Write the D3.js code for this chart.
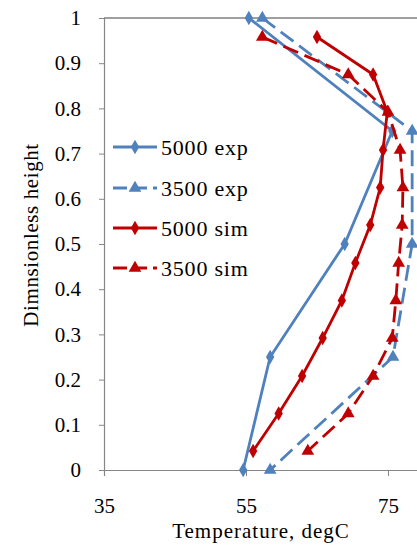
<!DOCTYPE html>
<html>
<head>
<meta charset="utf-8">
<script src="https://cdn.jsdelivr.net/npm/d3@7"></script>
<style>
  body { margin: 0; background: #fff; }
</style>
</head>
<body>
<div id="chart"></div>
<script>
// series data: [temperature degC, dimensionless height]
const exp5000 = [[55.4, 1], [75.6, 0.75], [68.9, 0.5], [58.4, 0.25], [54.6, 0]];
const exp3500 = [[57.3, 1], [78.4, 0.75], [78.4, 0.5], [75.7, 0.25], [58.4, 0]];
const simHeights = [0.958, 0.875, 0.792, 0.708, 0.625, 0.542, 0.458, 0.375, 0.292, 0.208, 0.125, 0.042];
const sim5000T = [65.0, 72.9, 74.9, 74.3, 73.9, 72.5, 70.4, 68.5, 65.8, 62.9, 59.6, 56.0];
const sim3500T = [57.3, 69.4, 75.0, 76.7, 77.1, 77.0, 76.5, 76.1, 75.6, 72.9, 69.4, 63.7];
const xTicks = [35, 55, 75];
const yTicks = [0, 0.1, 0.2, 0.3, 0.4, 0.5, 0.6, 0.7, 0.8, 0.9, 1];

const blue = "#4F81BD";
const red = "#C00000";
const serif = '"Liberation Serif", "Times New Roman", serif';

const series = [
  { name: "5000 exp", color: blue, dash: null, marker: "diamond", pts: exp5000 },
  { name: "3500 exp", color: blue, dash: "16,7", marker: "triangle", pts: exp3500 },
  { name: "5000 sim", color: red, dash: null, marker: "diamond", pts: simHeights.map((h, i) => [sim5000T[i], h]) },
  { name: "3500 sim", color: red, dash: "16,7", marker: "triangle", pts: simHeights.map((h, i) => [sim3500T[i], h]) }
];

const width = 417, height = 548;
const svg = d3.select("#chart").append("svg")
  .attr("width", width).attr("height", height);

const x = d3.scaleLinear().domain([35, 95]).range([104, 104 + 60 * 7.1]);
const y = d3.scaleLinear().domain([0, 1]).range([470, 18]);

// top border line
svg.append("line")
  .attr("x1", x(35)).attr("x2", width)
  .attr("y1", y(1)).attr("y2", y(1))
  .attr("stroke", "#404040").attr("stroke-width", 1.2);

// x axis
const xAxis = svg.append("g")
  .attr("transform", `translate(0,${y(0)})`)
  .call(d3.axisBottom(x).tickValues(xTicks).tickSize(6).tickPadding(22).tickFormat(d3.format("d")));
xAxis.select(".domain").attr("stroke", "#868686").attr("stroke-width", 1.2);
xAxis.selectAll(".tick line").attr("stroke", "#868686");
xAxis.selectAll(".tick text")
  .style("font-family", serif).style("font-size", "21px").attr("fill", "#000");

// y axis
const yAxis = svg.append("g")
  .attr("transform", `translate(${x(35)},0)`)
  .call(d3.axisLeft(y).tickValues(yTicks).tickSize(5).tickPadding(18)
    .tickFormat(d => d === 0 || d === 1 ? String(d) : d3.format(".1f")(d)));
yAxis.select(".domain").attr("stroke", "#868686").attr("stroke-width", 1.2);
yAxis.selectAll(".tick line").attr("stroke", "#868686");
yAxis.selectAll(".tick text")
  .style("font-family", serif).style("font-size", "21px").attr("fill", "#000");

// axis titles
svg.append("text")
  .attr("transform", `translate(38,${y(0.52)}) rotate(-90)`)
  .attr("text-anchor", "middle")
  .style("font-family", serif).style("font-size", "21px")
  .attr("letter-spacing", 0.6)
  .text("Dimnsionless height");
svg.append("text")
  .attr("x", 261).attr("y", 538)
  .attr("text-anchor", "middle")
  .style("font-family", serif).style("font-size", "21px")
  .attr("letter-spacing", 1)
  .text("Temperature, degC");

const line = d3.line().x(d => x(d[0])).y(d => y(d[1]));
const diamond = d3.symbol().type(d3.symbolDiamond).size(60);
const triangle = d3.symbol().type(d3.symbolTriangle).size(70);

series.forEach(s => {
  svg.append("path")
    .attr("d", line(s.pts))
    .attr("fill", "none")
    .attr("stroke", s.color)
    .attr("stroke-width", 2.8)
    .attr("stroke-dasharray", s.dash);
  svg.append("g").selectAll("path")
    .data(s.pts)
    .join("path")
    .attr("transform", d => `translate(${x(d[0])},${y(d[1])})`)
    .attr("d", s.marker === "diamond" ? diamond() : triangle())
    .attr("fill", s.color);
});

// legend
const legendRows = [147, 188, 228, 268];
series.forEach((s, i) => {
  const g = svg.append("g").attr("transform", `translate(0,${legendRows[i]})`);
  g.append("line")
    .attr("x1", 113).attr("x2", 157)
    .attr("stroke", s.color).attr("stroke-width", 2.8)
    .attr("stroke-dasharray", s.dash ? "14,6" : null);
  g.append("path")
    .attr("transform", "translate(135,0)")
    .attr("d", s.marker === "diamond" ? diamond() : triangle())
    .attr("fill", s.color);
  g.append("text")
    .attr("x", 161).attr("y", 8)
    .style("font-family", serif).style("font-size", "22px")
    .attr("letter-spacing", 0.8)
    .text(s.name);
});
</script>
</body>
</html>
